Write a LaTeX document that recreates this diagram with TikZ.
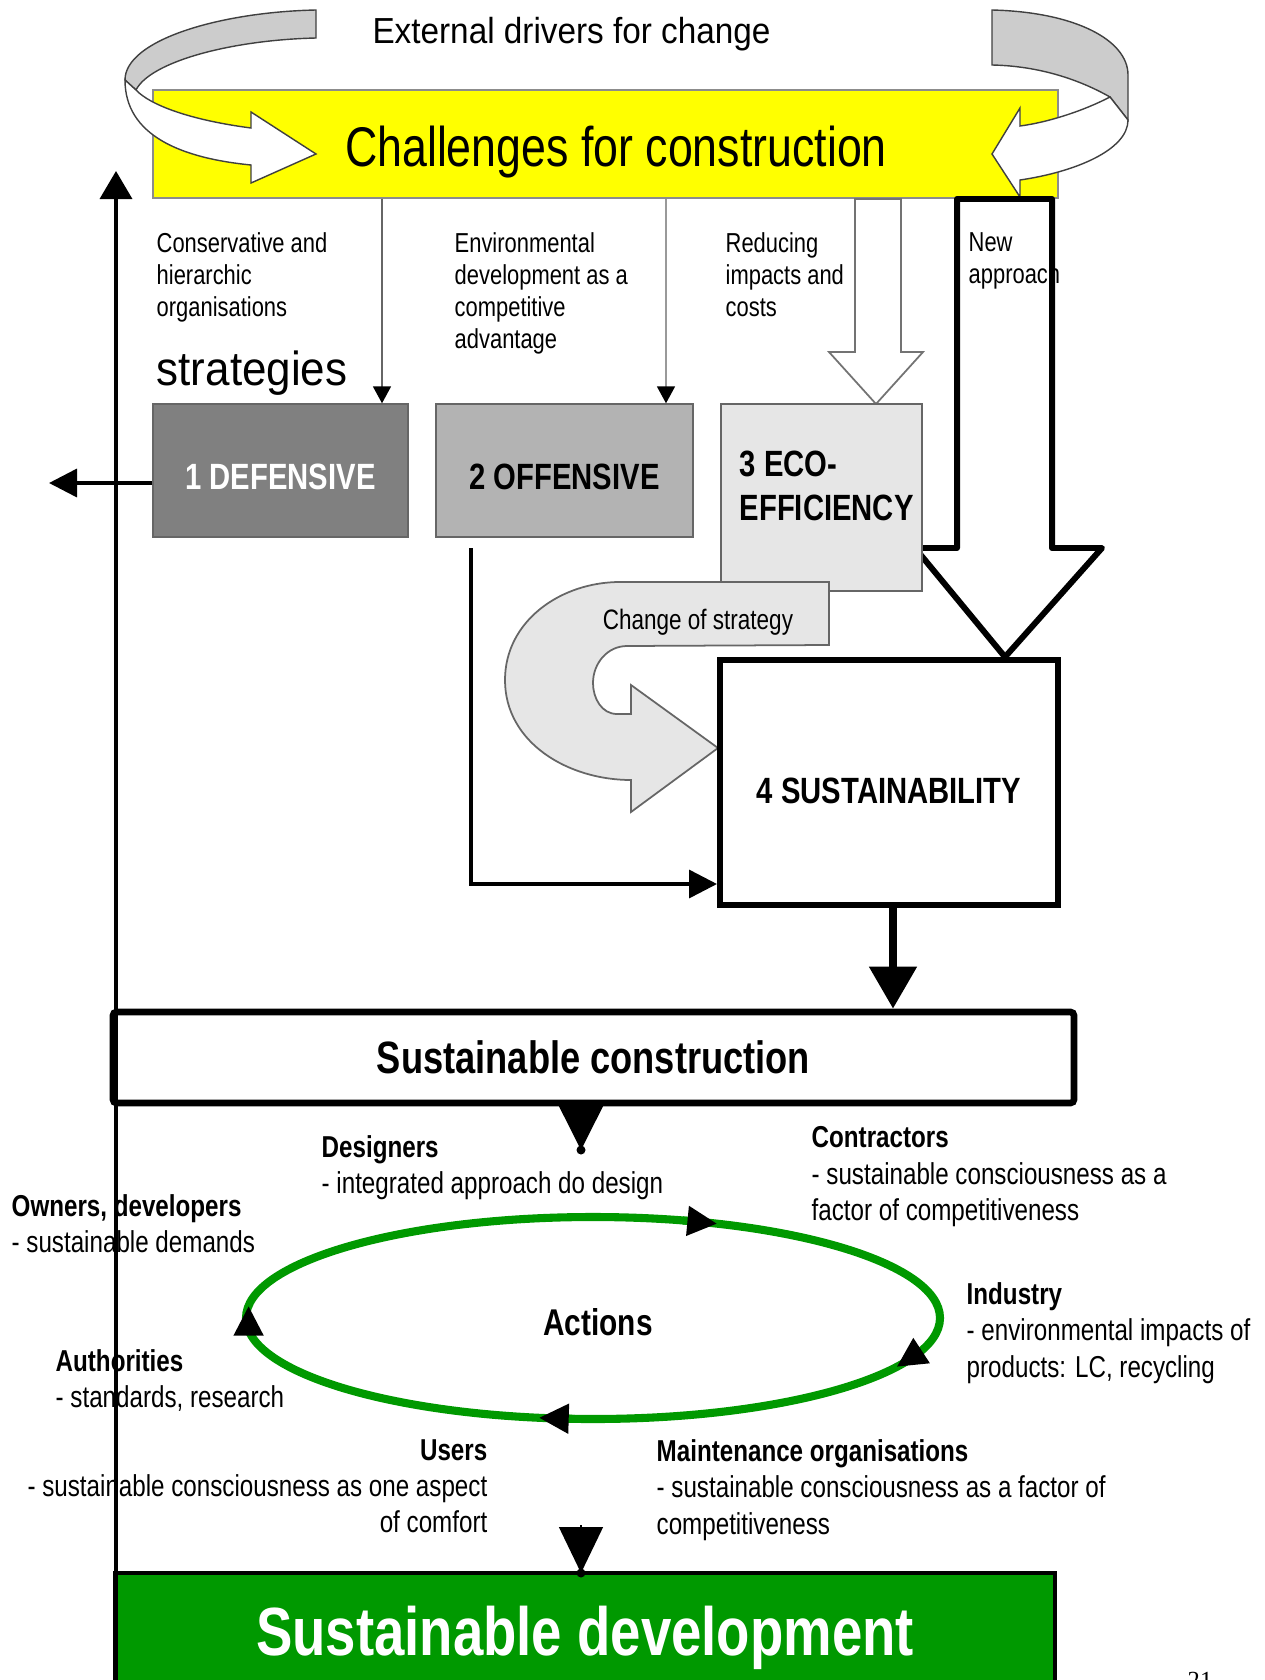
\documentclass[tikz,border=0pt]{standalone}
\usepackage{fontspec}
\setmainfont{Liberation Sans}
\newfontfamily\widefont[FakeStretch=0.92]{Liberation Sans}
\newfontfamily\narrowfont[FakeStretch=0.8]{Liberation Sans}
\newfontfamily\pagefont{Liberation Serif}
\usetikzlibrary{arrows.meta}
\definecolor{chalyellow}{RGB}{255,255,0}
\definecolor{bandgray}{RGB}{204,204,204}
\definecolor{defgray}{RGB}{128,128,128}
\definecolor{offgray}{RGB}{179,179,179}
\definecolor{ecogray}{RGB}{230,230,230}
\definecolor{loopgreen}{RGB}{0,153,0}

\begin{document}
\begin{tikzpicture}[
    note/.style={font=\narrowfont\fontsize{7.8}{9.1}\selectfont, align=left, inner sep=0pt, anchor=north west},
    actor/.style={font=\narrowfont\fontsize{8.6}{10.3}\selectfont, align=left, inner sep=0pt, anchor=north west},
    stratlabel/.style={font=\narrowfont\bfseries\fontsize{10.4}{12.5}\selectfont},
    stratbox/.style={stratlabel, draw=black!60, inner sep=0pt, text height=0.38cm, text depth=0pt},
    ribbon/.style={draw=black!75, line width=0.4pt},
    thinarrow/.style={-{Triangle[length=1.7mm,width=1.8mm,black]}, line width=0.5pt},
    blackarrow/.style={-{Triangle[length=2.8mm,width=2.8mm]}, line width=1pt},
    looptip/.style={-{Triangle[length=3mm,width=2.8mm,black]}, draw=loopgreen, line width=2.3pt}
  ]
  \useasboundingbox (0,0) rectangle (12.65,-16.8);

  %%%%% CHALLENGES %%%%%
  \node[fill=chalyellow, draw=black!45, minimum width=9.05cm, minimum height=1.08cm, inner sep=0pt] (chal) at (6.055,-1.44) {};
  \node[font=\narrowfont\fontsize{15.9}{19}\selectfont, anchor=base] (chaltxt) at (6.16,-1.667) {Challenges for construction};

  % left ribbon
  \filldraw[ribbon, fill=bandgray] (3.16,-0.10) .. controls (2.20,-0.12) and (1.25,-0.40) .. (1.25,-0.80) -- (1.36,-0.90) .. controls (1.50,-0.62) and (2.30,-0.40) .. (3.16,-0.38) -- cycle;
  \filldraw[ribbon, fill=white] (1.25,-0.80) -- (1.36,-0.90) .. controls (1.50,-1.05) and (1.90,-1.20) .. (2.51,-1.28) -- (2.51,-1.12) -- (3.16,-1.54) -- (2.51,-1.83) -- (2.51,-1.65) .. controls (1.80,-1.58) and (1.25,-1.35) .. (1.25,-0.80) -- cycle;
  % right ribbon
  \filldraw[ribbon, fill=bandgray] (9.92,-0.10) .. controls (10.75,-0.12) and (11.28,-0.40) .. (11.28,-0.75) -- (11.28,-1.20) -- (11.10,-0.97) .. controls (10.80,-0.80) and (10.40,-0.66) .. (9.92,-0.65) -- cycle;
  \filldraw[ribbon, fill=white] (11.28,-1.20) -- (11.10,-0.97) .. controls (10.85,-1.10) and (10.50,-1.22) .. (10.20,-1.26) -- (10.20,-1.08) -- (9.92,-1.54) -- (10.20,-1.97) -- (10.20,-1.80) .. controls (10.75,-1.72) and (11.28,-1.50) .. (11.28,-1.20) -- cycle;

  \node[font=\widefont\fontsize{10.3}{12}\selectfont, anchor=base] (ext) at (5.715,-0.433) {External drivers for change};

  %%%%% STRATEGIES %%%%%
  \filldraw[fill=white, draw=black!55, line width=0.5pt] (8.55,-1.99) -- (8.55,-3.52) -- (8.29,-3.52) -- (8.76,-4.04) -- (9.23,-3.52) -- (9.01,-3.52) -- (9.01,-1.99) -- cycle;
  \filldraw[fill=white, draw=black, line width=1.7pt, line join=round] (9.57,-1.99) -- (9.57,-5.48) -- (9.15,-5.48) -- (10.05,-6.57) -- (11.02,-5.48) -- (10.52,-5.48) -- (10.52,-1.99) -- cycle;

  \node[stratbox, fill=defgray, text=white, minimum width=2.55cm, minimum height=1.33cm] (def) at (2.805,-4.705) {1 DEFENSIVE};
  \node[stratbox, fill=offgray, minimum width=2.57cm, minimum height=1.33cm] (off) at (5.645,-4.705) {2 OFFENSIVE};
  \node[stratbox, fill=ecogray, minimum width=2.01cm, minimum height=1.87cm] (eco) at (8.215,-4.975) {};
  \node[stratlabel, align=left, anchor=north west, inner sep=0pt] (ecotxt) at (7.39,-4.50) {3 ECO-\\EFFICIENCY};

  \draw[thinarrow, draw=black!60] (3.82,0 |- chal.south) -- (3.82,0 |- def.north);
  \draw[thinarrow, draw=black!40] (6.66,0 |- chal.south) -- (6.66,0 |- off.north);

  \node[note] (cons) at (1.56,-2.32) {Conservative and\\hierarchic\\organisations};
  \node[note] (envi) at (4.54,-2.32) {Environmental\\development as a\\competitive\\advantage};
  \node[note] (redu) at (7.25,-2.32) {Reducing\\impacts and\\costs};
  \node[note] (newa) at (9.68,-2.32) {New\\approach};
  \node[font=\widefont\fontsize{13.6}{16}\selectfont, anchor=base west, inner sep=0pt] (strat) at (1.56,-3.85) {strategies};

  % change of strategy
  \filldraw[fill=ecogray, draw=black!60, line width=0.5pt] (8.29,-5.82) -- (6.20,-5.82) to[out=180,in=90] (5.05,-6.80) to[out=270,in=180] (6.31,-7.80) -- (6.31,-8.12) -- (7.18,-7.48) -- (6.31,-6.85) -- (6.31,-7.14) -- (6.17,-7.14) to[out=180,in=270] (5.93,-6.83) to[out=90,in=180] (6.27,-6.46) -- (8.29,-6.45) -- cycle;
  \node[font=\narrowfont\fontsize{8}{9.6}\selectfont] (chg) at (6.98,-6.22) {Change of strategy};

  \node[stratlabel, draw, line width=1.7pt, fill=white, minimum width=3.38cm, minimum height=2.45cm, text height=0.41cm, text depth=0pt] (sust) at (8.89,-7.825) {4 SUSTAINABILITY};

  \coordinate (offout) at (4.71,-5.48);
  \coordinate (sustin) at (7.17,-8.84);
  \draw[blackarrow] (offout) |- (sustin);

  \coordinate (defout) at (0.49,-4.83);
  \draw[blackarrow] (def.west |- defout) -- (defout);

  %%%%% CONSTRUCTION %%%%%
  \node[draw, line width=1.9pt, rounded corners=1pt, fill=white, minimum width=9.61cm, minimum height=0.91cm, font=\narrowfont\bfseries\fontsize{12.9}{15}\selectfont] (constr) at (5.935,-10.575) {Sustainable construction};
  \draw[line width=2.3pt, -{Triangle[length=4.2mm,width=4.6mm]}] (8.93,0 |- sust.south) -- (8.93,0 |- constr.north);

  \coordinate (dtop) at (5.81,-11.50);
  \draw[-{Triangle[length=4.6mm,width=4.6mm]}] (constr.south -| dtop) -- (dtop);
  \fill (dtop) circle (0.045);

  % actions loop
  \coordinate (loopc) at (5.93,-13.18);
  \draw[draw=loopgreen, line width=2.3pt] (loopc) ellipse [x radius=3.47, y radius=1.01];
  \foreach \a/\b in {75/69, -19/-29, -93/-99, 187/173}
    \draw[looptip] ([shift={(\a:3.47cm and 1.01cm)}]loopc) -- ([shift={(\b:3.47cm and 1.01cm)}]loopc);
  \node[font=\narrowfont\bfseries\fontsize{10.6}{12.7}\selectfont] (act) at (5.98,-13.22) {Actions};

  \node[actor] (desi) at (3.21,-11.35) {\textbf{Designers}\\- integrated approach do design};
  \node[actor] (cont) at (8.11,-11.26) {\textbf{Contractors}\\- sustainable consciousness as a\\factor of competitiveness};
  \node[actor] (owne) at (0.11,-11.94) {\textbf{Owners, developers}\\- sustainable demands};
  \node[actor] (indu) at (9.66,-12.82) {\textbf{Industry}\\- environmental impacts of\\products: LC, recycling};
  \node[actor] (auth) at (0.55,-13.49) {\textbf{Authorities}\\- standards, research};
  \node[actor, anchor=north east, align=right] (user) at (4.88,-14.39) {\textbf{Users}\\- sustainable consciousness as one aspect\\of comfort};
  \node[actor] (main) at (6.56,-14.39) {\textbf{Maintenance organisations}\\- sustainable consciousness as a factor of\\competitiveness};

  %%%%% DEVELOPMENT %%%%%
  \node[draw, line width=0.9pt, fill=loopgreen, text=white, minimum width=9.40cm, minimum height=1.16cm, text depth=0pt, font=\narrowfont\bfseries\fontsize{19.4}{23}\selectfont] (sdev) at (5.85,-16.31) {Sustainable development};
  \coordinate (dstart) at (5.81,-15.25);
  \coordinate (dbot) at (5.81,-15.73);
  \draw[-{Triangle[length=4.6mm,width=4.4mm]}] (dstart) -- (dbot);
  \fill (dbot) circle (0.045);

  \coordinate (feedbot) at (1.16,-16.8);
  \coordinate (feedtop) at (1.16,-1.71);
  \draw[line width=1pt, -{Triangle[length=2.8mm,width=3.2mm]}] (feedbot) -- (feedtop);

  \node[font=\pagefont\fontsize{7}{8}\selectfont, anchor=base west, inner sep=0pt] (page) at (11.87,-16.88) {21};
\end{tikzpicture}
\end{document}
